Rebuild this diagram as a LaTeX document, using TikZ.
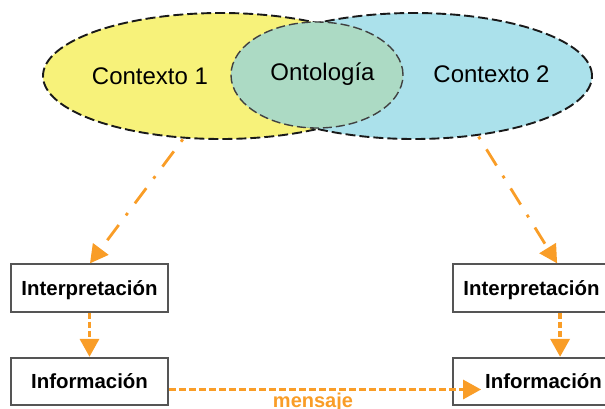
\documentclass[tikz,border=0pt]{standalone}
\usepackage{fontspec}
\setmainfont{Liberation Sans}
\usetikzlibrary{shapes.geometric,arrows.meta}
\definecolor{ctxyellow}{HTML}{F7F27A}
\definecolor{ctxcyan}{HTML}{ABE1EB}
\definecolor{ontogreen}{HTML}{ACDAC4}
\definecolor{flow}{HTML}{F99D27}
\definecolor{boxline}{HTML}{555555}

\begin{document}
\begin{tikzpicture}[x=1pt,y=-1pt,
  context/.style={ellipse, draw=black!90, line width=1.9pt,
    dash pattern=on 10pt off 4pt, inner sep=0pt,
    minimum width=356pt, minimum height=126pt},
  onto/.style={ellipse, draw=black!75, line width=1.4pt,
    dash pattern=on 9pt off 4pt, inner sep=0pt, fill=ontogreen,
    minimum width=172pt, minimum height=106pt},
  ctxlabel/.style={font=\fontsize{24}{28}\selectfont, inner sep=0pt, anchor=base},
  stepbox/.style={draw=boxline, line width=1.8pt, fill=white, inner sep=0pt,
    minimum width=157pt, minimum height=47.5pt,
    text height=14pt, text depth=0pt,
    font=\fontsize{20.4}{24}\selectfont\bfseries},
  headtip/.style={-{Triangle[length=18pt,width=19pt]}},
  dashdotarrow/.style={headtip, draw=flow, line width=2.8pt,
    dash pattern=on 3pt off 12pt on 19pt off 12pt, shorten <=1pt},
  dashedarrow/.style={headtip, draw=flow, line width=3.4pt,
    dash pattern=on 6pt off 3pt},
  msgarrow/.style={headtip, draw=flow, line width=3pt,
    dash pattern=on 7pt off 3pt},
  msglabel/.style={text=flow, font=\fontsize{20}{24}\selectfont\bfseries,
    inner sep=0pt, anchor=base}
]
\useasboundingbox (0,0) rectangle (605,408);
\clip (0,0) rectangle (605,408);

% the two contexts and their shared ontology
\node[context, fill=ctxyellow] (ctx1) at (221,76) {};
\node[context, fill=ctxcyan] (ctx2) at (414,76) {};
\node[onto] (ontology) at (317,75) {};

\node[ctxlabel] (lab1) at (150,84) {Contexto 1};
\node[ctxlabel] (lab2) at (491.5,82) {Contexto 2};
\node[ctxlabel] (labonto) at (322.5,80) {Ontología};

% interpretation and information boxes
\node[stepbox] (interp1) at (89.5,288) {Interpretación};
\node[stepbox] (info1) at (89.5,381.5) {Información};
\node[stepbox] (interp2) at (531.5,288) {Interpretación};
\node[stepbox] (info2) at (531.5,381.5) {\hspace*{24pt}Información};

% connectors
\draw[dashdotarrow] (ctx1.239) -- ([xshift=0.5pt]interp1.north);
\draw[dashdotarrow] (ctx2.317) -- ([xshift=105pt]interp2.north west);
\draw[dashedarrow] (interp1.south) -- (info1.north);
\draw[dashedarrow] ([xshift=108pt]interp2.south west) -- ([xshift=108pt]info2.north west);
\draw[msgarrow] ([yshift=-8pt]info1.east) -- ([xshift=29pt,yshift=-8pt]info2.west);

\node[msglabel] (msg) at (313,407) {mensaje};
\end{tikzpicture}
\end{document}
